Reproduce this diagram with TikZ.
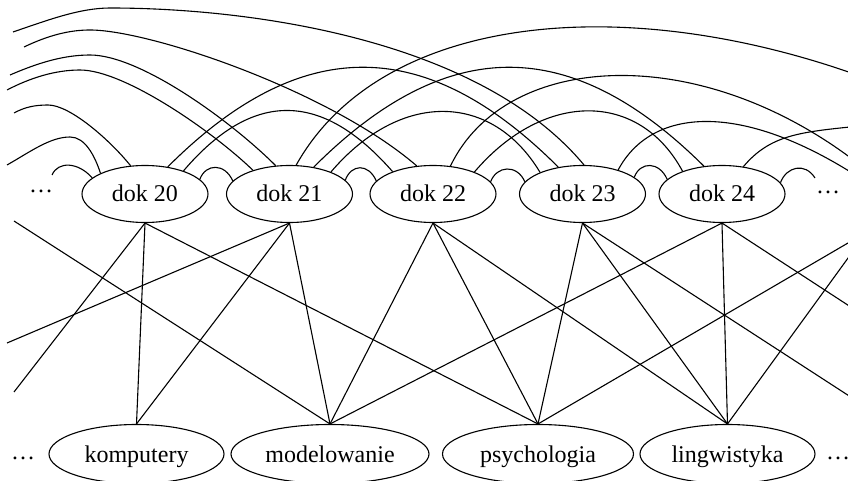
\documentclass[tikz,border=0pt]{standalone}
\usepackage{fontspec}
\setmainfont{Liberation Serif}
\usetikzlibrary{shapes.geometric}
\begin{document}
\begin{tikzpicture}[x=0.5pt,y=-0.5pt,
  every node/.style={font=\fontsize{12}{14}\selectfont},
  dokbox/.style={ellipse,draw,line width=0.55pt,inner sep=0pt,minimum width=63pt,minimum height=28.5pt,
    text height=8.5pt,text depth=0.5pt},
  termbox/.style={ellipse,draw,line width=0.55pt,inner sep=0pt,minimum height=29.5pt,
    text height=9.5pt,text depth=0.5pt},
  more/.style={anchor=base,inner sep=0pt},
  link/.style={line width=0.55pt},
  assoc/.style={line width=0.55pt}]
\useasboundingbox (0,0) rectangle (848,481);

% documents
\node[dokbox] (d20) at (145,194)   {dok 20};
\node[dokbox] (d21) at (289.5,194) {dok 21};
\node[dokbox] (d22) at (433,194)   {dok 22};
\node[dokbox] (d23) at (582.5,194) {dok 23};
\node[dokbox] (d24) at (722,194)   {dok 24};
\node[more] (dotsl) at (41,193)  {…};
\node[more] (dotsr) at (828,194) {…};

% terms
\node[termbox,minimum width=87.5pt] (komp) at (136.5,454) {komputery};
\node[termbox,minimum width=99pt]   (mod)  at (330,454)   {modelowanie};
\node[termbox,minimum width=95.5pt] (psy)  at (538,454)   {psychologia};
\node[termbox,minimum width=87.5pt] (ling) at (727.5,454) {lingwistyka};
\node[more] (tdotsl) at (23,459)  {…};
\node[more] (tdotsr) at (838,459) {…};

% loose ends of links to documents outside the row
\coordinate (la) at (13,32);
\coordinate (lb) at (24,47);
\coordinate (lc) at (10,75);
\coordinate (ld) at (7,90);
\coordinate (le) at (14,113);
\coordinate (lf) at (7,165);
\coordinate (lg) at (52,175);
\coordinate (ra) at (860,76);
\coordinate (rb) at (860,165);
\coordinate (rc) at (860,178);
\coordinate (rd) at (860,126);
\coordinate (rg) at (815,178);

% loose ends of document--term lines
\coordinate (sl1) at (14,392);
\coordinate (sl2) at (7,343);
\coordinate (sl3) at (14,221);
\coordinate (sr1) at (860,403);
\coordinate (sr2) at (860,313);
\coordinate (sr3) at (860,236);
\coordinate (sr4) at (860,241.6);

% links between documents
\draw[link] (la) .. controls +(35,-12) and +(-30,0) .. (110,8)
                 .. controls +(140,0) and +(-105,-126) .. (d23.87);
\draw[link] (lb) .. controls +(25,-12) and +(-20,0) .. (90,30)
                 .. controls +(60,0) and +(-87,-75) .. (d22.120);
\draw[link] (lc) .. controls +(30,-13) and +(-25,0) .. (90,55)
                 .. controls +(50,0) and +(-45,-45) .. (d21.116);
\draw[link] (ld) .. controls +(23,-12) and +(-25,0) .. (80,70)
                 .. controls +(45,0) and +(-38,-37) .. (d21.147);
\draw[link] (le) .. controls +(11,-6) and +(-13,0) .. (48,105)
                 .. controls +(22,0) and +(-21,-26) .. (d20.117);
\draw[link] (lf) .. controls +(23,-13) and +(-20,0) .. (70,137)
                 .. controls +(15,0) and +(-6,-18) .. (d20.155);

\draw[link] (d20.50) .. controls +(133,-133) and +(-133,-133) .. (d23.132);
\draw[link] (d20.31) .. controls +(70,-82) and +(-70,-80) .. (d22.151);
\draw[link] (d21.48) .. controls +(133,-133) and +(-133,-132) .. (d24.123);
\draw[link] (d21.28) .. controls +(70,-82) and +(-48,-80) .. (d23.153);
\draw[link] (d22.28) .. controls +(70,-82) and +(-43,-80) .. (d24.150);

\draw[link] (d21.77) .. controls +(84,-150) and +(-240,-86) .. (ra);
\draw[link] (d22.58) .. controls +(55,-115) and +(-160,-125) .. (rb);
\draw[link] (d23.34) .. controls +(33,-62) and +(-120,-78) .. (rc);
\draw[link] (d24.52) .. controls +(27,-32) and +(-60,6) .. (rd);

% links between neighbours
\draw[link] (lg) .. controls +(6,-14) and +(-14,-16) .. (d20.163);
\draw[link] (d20.15) .. controls +(6,-16) and +(-8,-18) .. (d21.167);
\draw[link] (d21.14) .. controls +(6,-16) and +(-8,-18) .. (d22.167);
\draw[link] (d22.12) .. controls +(6,-16) and +(-8,-18) .. (d23.168);
\draw[link] (d23.18) .. controls +(6,-16) and +(-8,-18) .. (d24.165);
\draw[link] (d24.11) .. controls +(6,-16) and +(-10,-16) .. (rg);

% document--term lines
\draw[assoc] (d20.south) -- (komp.north);
\draw[assoc] (d20.south) -- (psy.north);
\draw[assoc] (d20.south) -- (sl1);
\draw[assoc] (d21.south) -- (komp.north);
\draw[assoc] (d21.south) -- (mod.north);
\draw[assoc] (d21.south) -- (sl2);
\draw[assoc] (sl3) -- (mod.north);
\draw[assoc] (d22.south) -- (mod.north);
\draw[assoc] (d22.south) -- (psy.north);
\draw[assoc] (d22.south) -- (ling.north);
\draw[assoc] (d23.south) -- (psy.north);
\draw[assoc] (d23.south) -- (ling.north);
\draw[assoc] (d23.south) -- (sr1);
\draw[assoc] (d24.south) -- (mod.north);
\draw[assoc] (d24.south) -- (ling.north);
\draw[assoc] (d24.south) -- (sr2);
\draw[assoc] (psy.north) -- (sr3);
\draw[assoc] (ling.north) -- (sr4);
\end{tikzpicture}
\end{document}
